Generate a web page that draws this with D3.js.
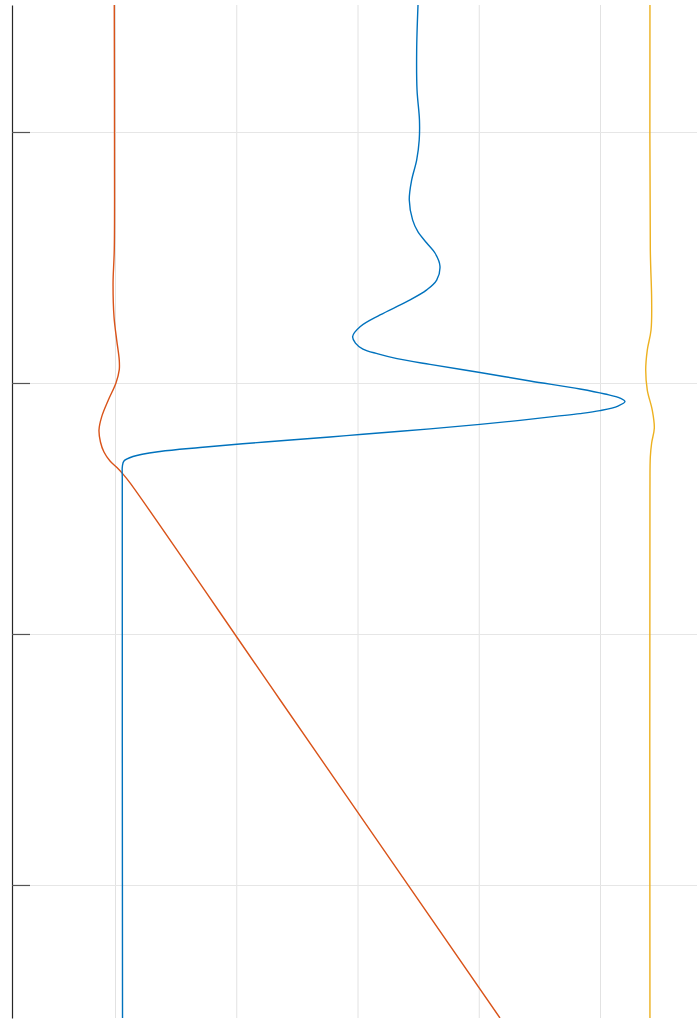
<!DOCTYPE html>
<html>
<head>
<meta charset="utf-8">
<script src="https://cdn.jsdelivr.net/npm/d3@7"></script>
<style>
  html, body { margin: 0; padding: 0; background: #fff; }
  svg { display: block; }
</style>
</head>
<body>
<script>
// ---- data ----
const yTicks = [1, 2, 3, 4];
const xGridValues = [1, 2, 3, 4, 5];

const blueDepth = [0.494, 0.673, 0.833, 0.952, 1.032, 1.112, 1.191, 1.271, 1.351, 1.398, 1.442, 1.482, 1.534, 1.590, 1.629, 1.676, 1.729, 1.776, 1.815, 1.841, 1.865, 1.884, 1.903, 1.926, 1.958, 1.992, 2.024, 2.044, 2.060, 2.074, 2.092, 2.110, 2.122, 2.133, 2.149, 2.165, 2.183, 2.204, 2.215, 2.235, 2.257, 2.273, 2.293, 2.311, 2.331, 2.386, 4.530];
const blueValue = [3.499, 3.488, 3.491, 3.511, 3.509, 3.488, 3.447, 3.427, 3.455, 3.499, 3.571, 3.639, 3.680, 3.653, 3.571, 3.406, 3.186, 3.021, 2.960, 2.983, 3.045, 3.169, 3.326, 3.598, 4.010, 4.423, 4.835, 5.041, 5.165, 5.206, 5.148, 5.000, 4.835, 4.629, 4.340, 4.010, 3.598, 3.045, 2.773, 2.237, 1.701, 1.371, 1.148, 1.074, 1.061, 1.060, 1.062];

const orangeDepth = [0.494, 1.072, 1.470, 1.602, 1.737, 1.829, 1.908, 1.948, 2.000, 2.068, 2.135, 2.187, 2.235, 2.275, 2.311, 2.337, 2.363, 2.398, 3.263, 4.530];
const orangeValue = [0.994, 0.996, 0.994, 0.984, 0.992, 1.014, 1.035, 1.035, 1.008, 0.945, 0.890, 0.868, 0.880, 0.909, 0.959, 1.016, 1.066, 1.124, 2.362, 4.175];

const yellowDepth = [0.494, 1.470, 1.669, 1.789, 1.869, 1.948, 2.028, 2.108, 2.179, 2.239, 2.295, 2.426, 4.530];
const yellowValue = [5.412, 5.415, 5.426, 5.421, 5.390, 5.377, 5.390, 5.431, 5.448, 5.426, 5.415, 5.412, 5.412];

const seriesColors = ["#0072BD", "#D95319", "#EDB120"];

// ---- layout ----
const W = 697, H = 1021;
const pLeft = 12, pRight = 697, pTop = 5, pBottom = 1018;

const svg = d3.select("body").append("svg").attr("width", W).attr("height", H);

const x = d3.scaleLinear().domain([0.1505, 5.80]).range([pLeft, pRight]);
const y = d3.scaleLinear().domain([0.494, 4.530]).range([pTop, pBottom]);

svg.append("defs").append("clipPath").attr("id", "clip")
  .append("rect").attr("x", pLeft).attr("y", pTop).attr("width", pRight - pLeft).attr("height", pBottom - pTop);

// vertical grid
const gx = svg.append("g").attr("transform", `translate(0,${pBottom})`)
  .call(d3.axisBottom(x).tickValues(xGridValues).tickSize(-(pBottom - pTop)).tickFormat(""));
gx.select(".domain").remove();
gx.selectAll("line").attr("stroke", "#e2e2e2").attr("stroke-width", 1);

// horizontal grid
const gy = svg.append("g").attr("transform", `translate(${pLeft},0)`)
  .call(d3.axisLeft(y).tickValues(yTicks).tickSize(-(pRight - pLeft)).tickFormat(""));
gy.select(".domain").remove();
gy.selectAll("line").attr("stroke", "#e6e6e6").attr("stroke-width", 1);

// lines
const line = d3.line()
  .x(d => x(d[1]))
  .y(d => y(d[0]))
  .curve(d3.curveCatmullRom.alpha(0.5));

const series = [
  d3.zip(orangeDepth, orangeValue),
  d3.zip(blueDepth, blueValue),
  d3.zip(yellowDepth, yellowValue)
];
const cols = [seriesColors[1], seriesColors[0], seriesColors[2]];

const plot = svg.append("g").attr("clip-path", "url(#clip)");
series.forEach((s, i) => {
  plot.append("path").datum(s)
    .attr("fill", "none")
    .attr("stroke", cols[i])
    .attr("stroke-width", 1.4)
    .attr("stroke-linejoin", "round")
    .attr("d", line);
});

// left axis with inward ticks
const ax = svg.append("g").attr("transform", `translate(${pLeft},0)`)
  .call(d3.axisLeft(y).tickValues(yTicks).tickSizeInner(-18).tickSizeOuter(0).tickFormat(""));
ax.select(".domain").attr("stroke", "#262626").attr("stroke-width", 1.2);
ax.selectAll(".tick line").attr("stroke", "#555").attr("stroke-width", 1.2);
</script>
</body>
</html>
